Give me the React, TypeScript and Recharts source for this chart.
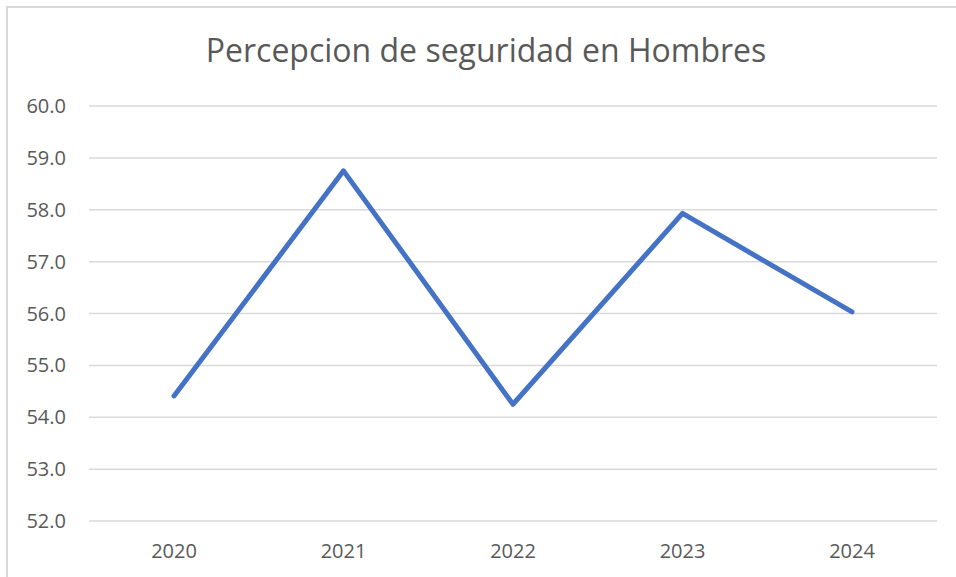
import { LineChart, Line, XAxis, YAxis, CartesianGrid } from 'recharts'

const YEARS = ['2020', '2021', '2022', '2023', '2024']
const HOMBRES = [54.41, 58.75, 54.25, 57.93, 56.03]
const Y_TICKS = [52, 53, 54, 55, 56, 57, 58, 59, 60]

const TITLE = 'Percepcion de seguridad en Hombres'
const FONT = '"Open Sans", "Noto Sans", sans-serif'
const TEXT_COLOR = '#595959'

const data = YEARS.map((year, i) => ({ year, value: HOMBRES[i] }))

export default function App() {
  return (
    <div
      style={{
        position: 'absolute',
        left: 0,
        top: 0,
        width: 956,
        height: 577,
        overflow: 'hidden',
        background: '#fff',
        fontFamily: FONT,
      }}
    >
      {/* chart frame, clipped at right and bottom like the screenshot */}
      <div
        style={{
          position: 'absolute',
          left: 6,
          top: 6,
          width: 980,
          height: 600,
          border: '2px solid #d9d9d9',
          boxSizing: 'border-box',
        }}
      />
      <div
        style={{
          position: 'absolute',
          left: 6,
          width: 960,
          top: 27,
          textAlign: 'center',
          fontSize: 32,
          color: TEXT_COLOR,
          lineHeight: '46px',
        }}
      >
        {TITLE}
      </div>
      <div style={{ position: 'absolute', left: 0, top: 0 }}>
        <LineChart
          width={956}
          height={577}
          data={data}
          margin={{ top: 106, right: 19, left: 0, bottom: 0 }}
        >
          <CartesianGrid vertical={false} stroke="#d9d9d9" strokeWidth={1.5} />
          <XAxis
            dataKey="year"
            height={56}
            axisLine={false}
            tickLine={false}
            padding={{ left: 85, right: 85 }}
            tickMargin={17}
            tick={{ fill: TEXT_COLOR, fontSize: 20, fontFamily: FONT }}
          />
          <YAxis
            width={89}
            domain={[52, 60]}
            ticks={Y_TICKS}
            interval={0}
            axisLine={false}
            tickLine={false}
            tickMargin={17}
            tickFormatter={(v: number) => v.toFixed(1)}
            tick={{ fill: TEXT_COLOR, fontSize: 20, fontFamily: FONT }}
          />
          <Line
            type="linear"
            dataKey="value"
            stroke="#4472c4"
            strokeWidth={5}
            strokeLinecap="round"
            strokeLinejoin="round"
            dot={false}
            activeDot={false}
            isAnimationActive={false}
          />
        </LineChart>
      </div>
    </div>
  )
}
